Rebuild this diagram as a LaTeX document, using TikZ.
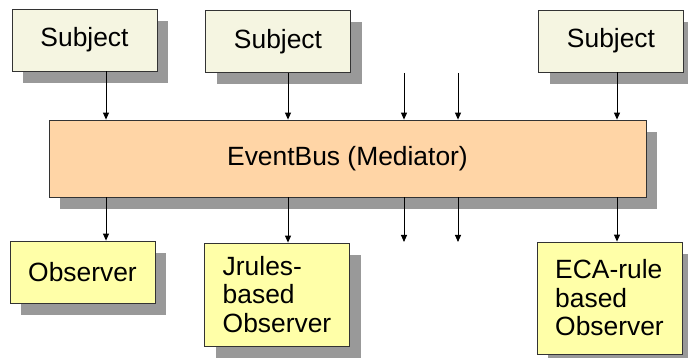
\documentclass[tikz,border=0pt]{standalone}
\usepackage{fontspec}
\setmainfont{Liberation Sans}
\usetikzlibrary{shadows,arrows.meta}
\definecolor{subjectfill}{HTML}{F5F5E1}
\definecolor{observerfill}{HTML}{FFFFA8}
\definecolor{busfill}{HTML}{FFD5A6}
\definecolor{shadowgray}{HTML}{999999}
\begin{document}
\begin{tikzpicture}[x=1pt,y=-1pt,
    box/.style={draw=black!80,line width=0.8pt,inner sep=0pt,align=left,
      font=\fontsize{26.4}{28.5}\selectfont,
      drop shadow={shadow xshift=11pt,shadow yshift=-12pt,fill=shadowgray,opacity=1}},
    subject/.style={box,fill=subjectfill,minimum width=145pt,minimum height=62pt},
    observer/.style={box,fill=observerfill,minimum width=145pt},
    link/.style={line width=0.9pt,-{Triangle[width=6pt,length=7pt]}}]
  \useasboundingbox (0,0) rectangle (688,358);
  \node[subject] (s1) at (84.5,40) {Subject};
  \node[subject] (s2) at (278,41.5) {Subject};
  \node[subject] (s3) at (611,41) {Subject};
  \node[box,fill=busfill,minimum width=597pt,minimum height=77pt] (bus) at (347.5,158.5) {EventBus (Mediator)};
  \node[observer,minimum height=62pt] (obs) at (82.5,272) {Observer};
  \node[observer,minimum height=103pt] (jrules) at (277,294.5) {Jrules-\\based\\Observer};
  \node[observer,minimum height=112pt] (eca) at (609.5,298) {ECA-rule\\based\\Observer};
  \coordinate (c1) at (106,0);
  \coordinate (c2) at (288,0);
  \coordinate (c3) at (617,0);
  \coordinate (f1t) at (404,73);
  \coordinate (f2t) at (458,73);
  \coordinate (f1b) at (404,242);
  \coordinate (f2b) at (458,242);
  \draw[link] (s1.south -| c1) -- (bus.north -| c1);
  \draw[link] (s2.south -| c2) -- (bus.north -| c2);
  \draw[link] (s3.south -| c3) -- (bus.north -| c3);
  \draw[link] (f1t) -- (f1t |- bus.north);
  \draw[link] (f2t) -- (f2t |- bus.north);
  \draw[link] (bus.south -| c1) -- (obs.north -| c1);
  \draw[link] (bus.south -| c2) -- (jrules.north -| c2);
  \draw[link] (bus.south -| c3) -- (eca.north -| c3);
  \draw[link] (f1t |- bus.south) -- (f1b);
  \draw[link] (f2t |- bus.south) -- (f2b);
\end{tikzpicture}
\end{document}
